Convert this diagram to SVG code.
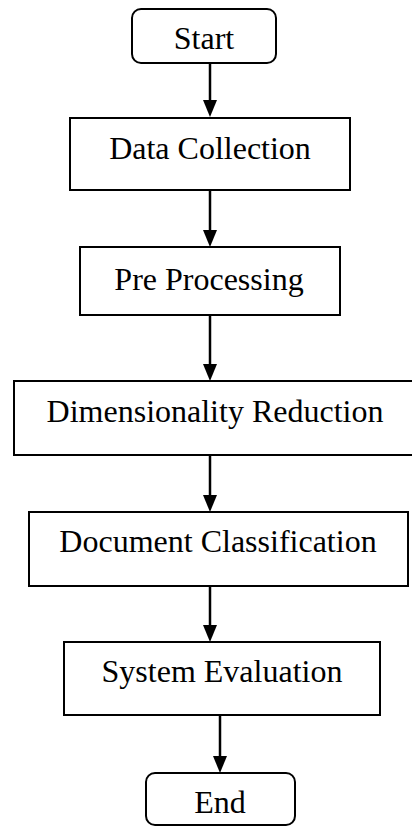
<svg xmlns="http://www.w3.org/2000/svg" width="412" height="827" viewBox="0 0 412 827">
<defs>
<style>
.box{fill:#fff;stroke:#000;stroke-width:2}
.lbl{font-family:"Liberation Serif","Times New Roman",serif;font-size:32px;fill:#000;text-anchor:middle}
.con{stroke:#000;stroke-width:2.5;fill:none}
.head{fill:#000}
</style>
</defs>
<rect width="412" height="827" fill="#fff"/>
<g id="connectors">
<line class="con" x1="210" y1="63" x2="210" y2="102"/>
<polygon class="head" points="203,100 217,100 210,117"/>
<line class="con" x1="210" y1="190" x2="210" y2="232"/>
<polygon class="head" points="203,230 217,230 210,247"/>
<line class="con" x1="210" y1="315" x2="210" y2="366"/>
<polygon class="head" points="203,364 217,364 210,381"/>
<line class="con" x1="210" y1="455" x2="210" y2="497"/>
<polygon class="head" points="203,495 217,495 210,512"/>
<line class="con" x1="210" y1="586" x2="210" y2="627"/>
<polygon class="head" points="203,625 217,625 210,642"/>
<line class="con" x1="220" y1="715" x2="220" y2="758"/>
<polygon class="head" points="213,756 227,756 220,773"/>
</g>
<g id="start">
<rect class="box" x="132" y="9" width="144" height="54" rx="9"/>
<text class="lbl" x="204" y="49">Start</text>
</g>
<g id="data-collection">
<rect class="box" x="70" y="118" width="280" height="72"/>
<text class="lbl" x="210" y="159">Data Collection</text>
</g>
<g id="pre-processing">
<rect class="box" x="80" y="247" width="260" height="68"/>
<text class="lbl" x="209" y="290">Pre Processing</text>
</g>
<g id="dimensionality-reduction">
<rect class="box" x="14" y="381" width="402" height="74"/>
<text class="lbl" x="215" y="422">Dimensionality Reduction</text>
</g>
<g id="document-classification">
<rect class="box" x="29" y="512" width="379" height="74"/>
<text class="lbl" x="218" y="552">Document Classification</text>
</g>
<g id="system-evaluation">
<rect class="box" x="64" y="642" width="316" height="73"/>
<text class="lbl" x="222" y="682">System Evaluation</text>
</g>
<g id="end">
<rect class="box" x="146" y="773" width="149" height="52" rx="9"/>
<text class="lbl" x="220" y="813">End</text>
</g>
</svg>
